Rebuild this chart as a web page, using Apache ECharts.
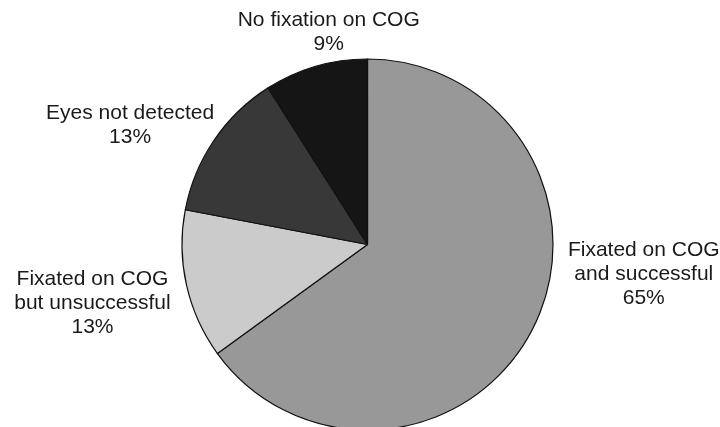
<!DOCTYPE html>
<html>
<head>
<meta charset="utf-8">
<script src="https://cdn.jsdelivr.net/npm/echarts@6/dist/echarts.min.js"></script>
<style>
  html, body { margin: 0; padding: 0; background: #fff; }
  #container { width: 720px; height: 427px; }
</style>
</head>
<body>
<div id="container"></div>
<script>
// categories and shares (%), clockwise from 12 o'clock
var categories = [
  'Fixated on COG\nand successful',
  'Fixated on COG\nbut unsuccessful',
  'Eyes not detected',
  'No fixation on COG'
];
var shares = [65, 13, 13, 9];

var colors = ['#989898', '#cbcbcb', '#383838', '#151515'];
// label shift from the rim point at each slice's mid angle (px)
var labelShift = [[111, -55], [-94, 18], [-84, -15], [13, -34]];

var CX = 367.5, CY = 244.5, R = 185.5;

var myChart = echarts.init(document.getElementById('container'));

var total = shares.reduce(function (a, b) { return a + b; }, 0);
function midAngle(i) {
  var before = 0;
  for (var k = 0; k < i; k++) before += shares[k];
  return (before + shares[i] / 2) / total * Math.PI * 2; // clockwise from top
}

var option = {
  animation: false,
  series: [
    {
      type: 'pie',
      center: [CX, CY],
      radius: [0, R],
      startAngle: 90,
      clockwise: true,
      avoidLabelOverlap: false,
      data: categories.map(function (c, i) {
        return { name: c, value: shares[i], itemStyle: { color: colors[i] } };
      }),
      itemStyle: { borderColor: '#111', borderWidth: 1.2 },
      label: {
        show: true,
        position: 'outside',
        fontFamily: 'Liberation Sans, Arial, sans-serif',
        fontSize: 21,
        lineHeight: 24,
        color: '#1a1a1a',
        formatter: function (p) {
          return p.name + '\n' + Math.round(p.percent) + '%';
        }
      },
      labelLine: { show: false },
      emphasis: { disabled: true }
    }
  ]
};

option.series[0].labelLayout = function (params) {
  var i = params.dataIndex;
  var a = midAngle(i);
  var ex = CX + R * Math.sin(a);
  var ey = CY - R * Math.cos(a);
  return {
    x: ex + labelShift[i][0],
    y: ey + labelShift[i][1],
    align: 'center',
    verticalAlign: 'middle'
  };
};

myChart.setOption(option);
</script>
</body>
</html>
